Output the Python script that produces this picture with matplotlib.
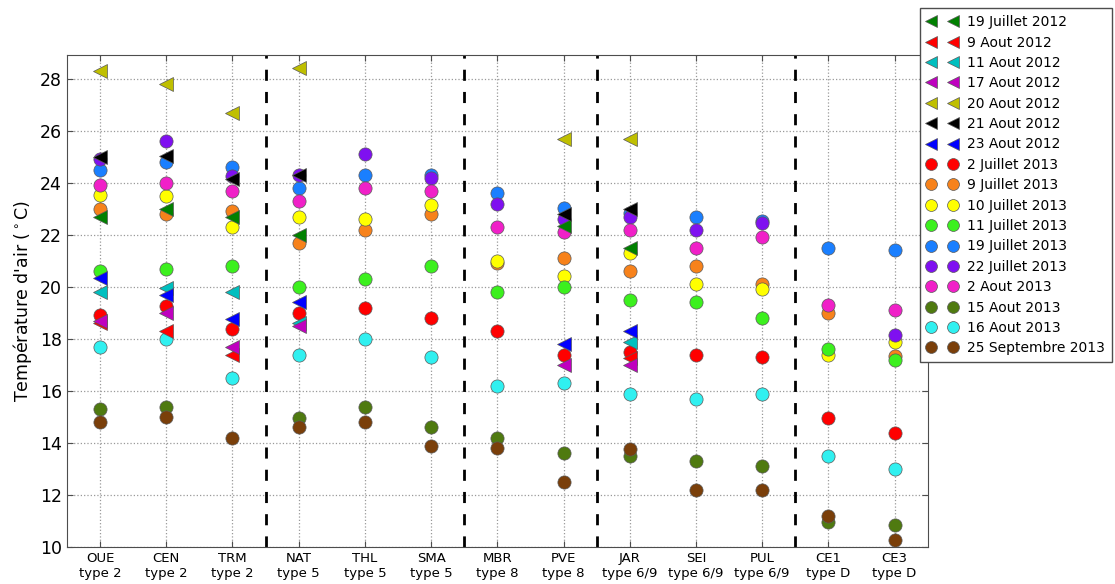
import matplotlib

matplotlib.use("Agg")

import matplotlib.pyplot as plt
import numpy as np

nan = np.nan

stations = ["OUE", "CEN", "TRM", "NAT", "THL", "SMA", "MBR", "PVE",
            "JAR", "SEI", "PUL", "CE1", "CE3"]
types = ["type 2", "type 2", "type 2", "type 5", "type 5", "type 5", "type 8",
         "type 8", "type 6/9", "type 6/9", "type 6/9", "type D", "type D"]
separators = [2.5, 5.5, 7.5, 10.5]

# campagne 2012 (triangles)
dates_2012 = ["19 Juillet 2012", "9 Aout 2012", "11 Aout 2012", "17 Aout 2012",
              "20 Aout 2012", "21 Aout 2012", "23 Aout 2012"]
colors_2012 = ["g", "r", "c", "m", "y", "k", "b"]
t_19jul12 = [22.7, 23.0, 22.7, 22.0, nan, nan, nan, 22.35, 21.5, nan, nan, nan, nan]
t_09aou12 = [18.6, 18.3, 17.4, nan, nan, nan, nan, nan, 17.25, nan, nan, nan, nan]
t_11aou12 = [19.8, 19.95, 19.8, 18.6, nan, nan, nan, nan, 17.9, nan, nan, nan, nan]
t_17aou12 = [18.7, 19.0, 17.7, 18.5, nan, nan, nan, 17.0, 17.0, nan, nan, nan, nan]
t_20aou12 = [28.3, 27.8, 26.7, 28.4, nan, nan, nan, 25.7, 25.7, nan, nan, nan, nan]
t_21aou12 = [25.0, 25.05, 24.15, 24.3, nan, nan, nan, 22.8, 23.0, nan, nan, nan, nan]
t_23aou12 = [20.35, 19.7, 18.75, 19.4, nan, nan, nan, 17.8, 18.3, nan, nan, nan, nan]
series_2012 = [t_19jul12, t_09aou12, t_11aou12, t_17aou12, t_20aou12, t_21aou12, t_23aou12]

# campagne 2013 (cercles)
dates_2013 = ["2 Juillet 2013", "9 Juillet 2013", "10 Juillet 2013", "11 Juillet 2013",
              "19 Juillet 2013", "22 Juillet 2013", "2 Aout 2013", "15 Aout 2013",
              "16 Aout 2013", "25 Septembre 2013"]
colors_2013 = ["#ff0000", "#f7821b", "#ffff00", "#3cf01e", "#1a7fff", "#7f10f0",
               "#f020c8", "#4f7a10", "#30f0f0", "#7a3f0a"]
t_02jul13 = [18.9, 19.25, 18.4, 19.0, 19.2, 18.8, 18.3, 17.4, 17.5, 17.4, 17.3, 14.95, 14.4]
t_09jul13 = [23.0, 22.8, 22.9, 21.7, 22.2, 22.8, 20.9, 21.1, 20.6, 20.8, 20.1, 19.0, 17.35]
t_10jul13 = [23.55, 23.5, 22.3, 22.7, 22.6, 23.15, 21.0, 20.4, 21.3, 20.1, 19.9, 17.4, 17.9]
t_11jul13 = [20.6, 20.7, 20.8, 20.0, 20.3, 20.8, 19.8, 20.0, 19.5, 19.4, 18.8, 17.6, 17.2]
t_19jul13 = [24.5, 24.8, 24.6, 23.8, 24.3, 24.3, 23.6, 23.05, 22.85, 22.7, 22.55, 21.5, 21.4]
t_22jul13 = [24.9, 25.6, 24.25, 24.3, 25.1, 24.2, 23.2, 22.6, 22.7, 22.2, 22.45, nan, 18.15]
t_02aou13 = [23.9, 24.0, 23.7, 23.3, 23.8, 23.7, 22.3, 22.1, 22.2, 21.5, 21.9, 19.3, 19.1]
t_15aou13 = [15.3, 15.4, nan, 14.95, 15.4, 14.6, 14.2, 13.6, 13.5, 13.3, 13.1, 10.95, 10.85]
t_16aou13 = [17.7, 18.0, 16.5, 17.4, 18.0, 17.3, 16.2, 16.3, 15.9, 15.7, 15.9, 13.5, 13.0]
t_25sep13 = [14.8, 15.0, 14.2, 14.6, 14.8, 13.9, 13.8, 12.5, 13.75, 12.2, 12.2, 11.2, 10.25]
series_2013 = [t_02jul13, t_09jul13, t_10jul13, t_11jul13, t_19jul13, t_22jul13,
               t_02aou13, t_15aou13, t_16aou13, t_25sep13]

x = np.arange(len(stations))

fig = plt.figure(figsize=(11.15, 5.84), dpi=100)
ax = fig.add_axes([0.060, 0.0634, 0.772, 0.8426])

for vals, col, lab in zip(series_2012, colors_2012, dates_2012):
    ax.plot(x, vals, linestyle="none", marker="<", markersize=9.5, color=col,
            markeredgecolor="0.35", markeredgewidth=0.5, label=lab, zorder=4)
for vals, col, lab in zip(series_2013, colors_2013, dates_2013):
    ax.plot(x, vals, linestyle="none", marker="o", markersize=9.5, color=col,
            markeredgecolor="0.35", markeredgewidth=0.5, label=lab, zorder=3)

for sep in separators:
    ax.axvline(sep, color="black", linestyle="--", linewidth=2, dashes=(4, 4), zorder=2)

ax.set_xlim(-0.5, len(stations) - 0.5)
ax.set_ylim(10, 28.92)
ax.set_xticks(x)
ax.set_xticklabels([f"{s}\n{t}" for s, t in zip(stations, types)], fontsize=9.5)
ax.set_yticks(np.arange(10, 29, 2))
ax.tick_params(axis="y", labelsize=12.5)
ax.tick_params(direction="in", top=True, right=True, length=4, color="0.3")
ax.grid(True, linestyle=":", color="0.6", linewidth=0.9)
ax.set_ylabel(r"Température d'air ($^\circ$C)", fontsize=12.5)
for sp in ax.spines.values():
    sp.set_color("0.3")

leg = ax.legend(loc="upper left", bbox_to_anchor=(0.825, 0.986),
                bbox_transform=fig.transFigure, numpoints=2, fontsize=10,
                fancybox=False, edgecolor="0.3", framealpha=1,
                labelspacing=0.46, handletextpad=0.7, borderpad=0.5,
                handlelength=2.2, borderaxespad=0, markerscale=0.9)
leg.get_frame().set_linewidth(1.0)

fig.savefig("out.png", dpi=100)
